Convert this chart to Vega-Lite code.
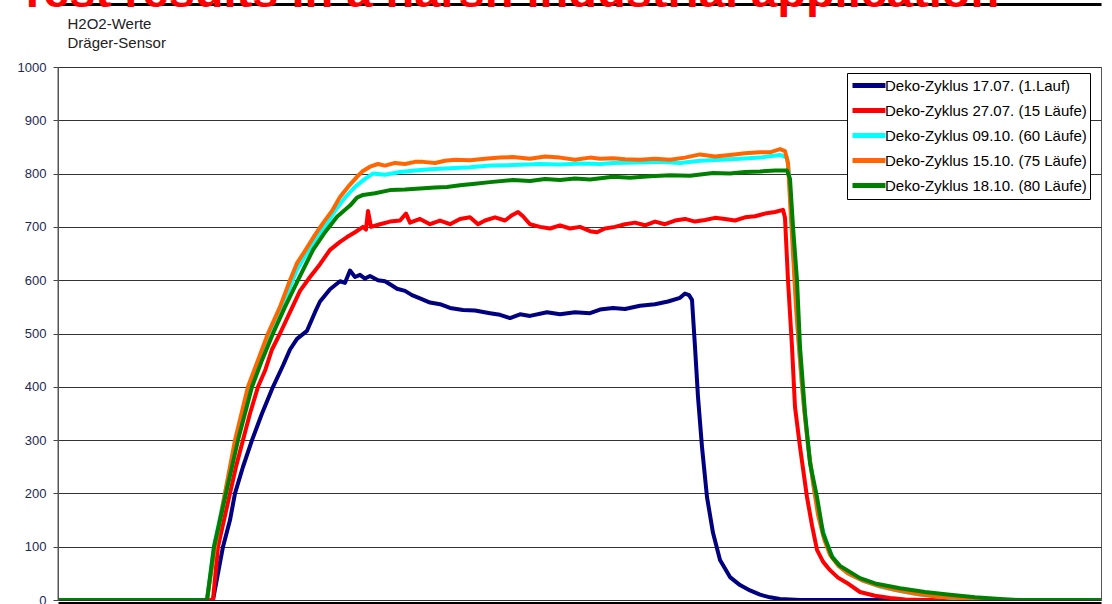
{
  "$schema": "https://vega.github.io/schema/vega-lite/v6.json",
  "width": 1043,
  "height": 533,
  "autosize": "none",
  "padding": {"left": 58, "top": 67, "right": 11, "bottom": 4},
  "background": "#ffffff",
  "title": {
    "text": "Test results in a harsh industrial application",
    "anchor": "start",
    "frame": "group",
    "orient": "top",
    "color": "#ff0000",
    "font": "Liberation Sans",
    "fontSize": 47,
    "fontWeight": "bold",
    "baseline": "alphabetic",
    "offset": -50,
    "dx": -40
  },
  "config": {
    "font": "Liberation Sans",
    "view": {"stroke": "#555555", "strokeWidth": 1}
  },
  "resolve": {"axis": {"x": "independent"}},
  "layer": [
    {
      "data": {"values": [
        {"s":"Deko-Zyklus 17.07. (1.Lauf)","t":0,"v":0},{"s":"Deko-Zyklus 17.07. (1.Lauf)","t":155,"v":0},{"s":"Deko-Zyklus 17.07. (1.Lauf)","t":165,"v":100},{"s":"Deko-Zyklus 17.07. (1.Lauf)","t":172,"v":150},{"s":"Deko-Zyklus 17.07. (1.Lauf)","t":177,"v":200},{"s":"Deko-Zyklus 17.07. (1.Lauf)","t":185,"v":250},{"s":"Deko-Zyklus 17.07. (1.Lauf)","t":194,"v":300},{"s":"Deko-Zyklus 17.07. (1.Lauf)","t":204,"v":350},{"s":"Deko-Zyklus 17.07. (1.Lauf)","t":215,"v":400},{"s":"Deko-Zyklus 17.07. (1.Lauf)","t":225,"v":440},{"s":"Deko-Zyklus 17.07. (1.Lauf)","t":232,"v":470},{"s":"Deko-Zyklus 17.07. (1.Lauf)","t":239,"v":490},{"s":"Deko-Zyklus 17.07. (1.Lauf)","t":249,"v":505},{"s":"Deko-Zyklus 17.07. (1.Lauf)","t":257,"v":540},{"s":"Deko-Zyklus 17.07. (1.Lauf)","t":262,"v":560},{"s":"Deko-Zyklus 17.07. (1.Lauf)","t":272,"v":583},{"s":"Deko-Zyklus 17.07. (1.Lauf)","t":282,"v":598},{"s":"Deko-Zyklus 17.07. (1.Lauf)","t":287,"v":595},{"s":"Deko-Zyklus 17.07. (1.Lauf)","t":292,"v":618},{"s":"Deko-Zyklus 17.07. (1.Lauf)","t":297,"v":606},{"s":"Deko-Zyklus 17.07. (1.Lauf)","t":302,"v":610},{"s":"Deko-Zyklus 17.07. (1.Lauf)","t":307,"v":603},{"s":"Deko-Zyklus 17.07. (1.Lauf)","t":312,"v":608},{"s":"Deko-Zyklus 17.07. (1.Lauf)","t":320,"v":600},{"s":"Deko-Zyklus 17.07. (1.Lauf)","t":327,"v":598},{"s":"Deko-Zyklus 17.07. (1.Lauf)","t":334,"v":590},{"s":"Deko-Zyklus 17.07. (1.Lauf)","t":339,"v":584},{"s":"Deko-Zyklus 17.07. (1.Lauf)","t":347,"v":580},{"s":"Deko-Zyklus 17.07. (1.Lauf)","t":354,"v":572},{"s":"Deko-Zyklus 17.07. (1.Lauf)","t":362,"v":566},{"s":"Deko-Zyklus 17.07. (1.Lauf)","t":372,"v":558},{"s":"Deko-Zyklus 17.07. (1.Lauf)","t":382,"v":555},{"s":"Deko-Zyklus 17.07. (1.Lauf)","t":392,"v":548},{"s":"Deko-Zyklus 17.07. (1.Lauf)","t":405,"v":544},{"s":"Deko-Zyklus 17.07. (1.Lauf)","t":417,"v":543},{"s":"Deko-Zyklus 17.07. (1.Lauf)","t":432,"v":538},{"s":"Deko-Zyklus 17.07. (1.Lauf)","t":442,"v":535},{"s":"Deko-Zyklus 17.07. (1.Lauf)","t":452,"v":529},{"s":"Deko-Zyklus 17.07. (1.Lauf)","t":462,"v":536},{"s":"Deko-Zyklus 17.07. (1.Lauf)","t":472,"v":533},{"s":"Deko-Zyklus 17.07. (1.Lauf)","t":489,"v":540},{"s":"Deko-Zyklus 17.07. (1.Lauf)","t":502,"v":536},{"s":"Deko-Zyklus 17.07. (1.Lauf)","t":517,"v":540},{"s":"Deko-Zyklus 17.07. (1.Lauf)","t":532,"v":538},{"s":"Deko-Zyklus 17.07. (1.Lauf)","t":542,"v":545},{"s":"Deko-Zyklus 17.07. (1.Lauf)","t":555,"v":548},{"s":"Deko-Zyklus 17.07. (1.Lauf)","t":567,"v":546},{"s":"Deko-Zyklus 17.07. (1.Lauf)","t":582,"v":552},{"s":"Deko-Zyklus 17.07. (1.Lauf)","t":597,"v":555},{"s":"Deko-Zyklus 17.07. (1.Lauf)","t":610,"v":560},{"s":"Deko-Zyklus 17.07. (1.Lauf)","t":622,"v":567},{"s":"Deko-Zyklus 17.07. (1.Lauf)","t":627,"v":575},{"s":"Deko-Zyklus 17.07. (1.Lauf)","t":631,"v":572},{"s":"Deko-Zyklus 17.07. (1.Lauf)","t":634,"v":563},{"s":"Deko-Zyklus 17.07. (1.Lauf)","t":637,"v":475},{"s":"Deko-Zyklus 17.07. (1.Lauf)","t":640,"v":381},{"s":"Deko-Zyklus 17.07. (1.Lauf)","t":644,"v":287},{"s":"Deko-Zyklus 17.07. (1.Lauf)","t":649,"v":193},{"s":"Deko-Zyklus 17.07. (1.Lauf)","t":655,"v":126},{"s":"Deko-Zyklus 17.07. (1.Lauf)","t":662,"v":75},{"s":"Deko-Zyklus 17.07. (1.Lauf)","t":672,"v":43},{"s":"Deko-Zyklus 17.07. (1.Lauf)","t":682,"v":28},{"s":"Deko-Zyklus 17.07. (1.Lauf)","t":692,"v":18},{"s":"Deko-Zyklus 17.07. (1.Lauf)","t":702,"v":10},{"s":"Deko-Zyklus 17.07. (1.Lauf)","t":712,"v":5},{"s":"Deko-Zyklus 17.07. (1.Lauf)","t":722,"v":2},{"s":"Deko-Zyklus 17.07. (1.Lauf)","t":742,"v":0},{"s":"Deko-Zyklus 17.07. (1.Lauf)","t":1043,"v":0},

        {"s":"Deko-Zyklus 27.07. (15 Läufe)","t":0,"v":0},{"s":"Deko-Zyklus 27.07. (15 Läufe)","t":155,"v":0},{"s":"Deko-Zyklus 27.07. (15 Läufe)","t":160,"v":100},{"s":"Deko-Zyklus 27.07. (15 Läufe)","t":166,"v":150},{"s":"Deko-Zyklus 27.07. (15 Läufe)","t":172,"v":200},{"s":"Deko-Zyklus 27.07. (15 Läufe)","t":178,"v":250},{"s":"Deko-Zyklus 27.07. (15 Läufe)","t":185,"v":300},{"s":"Deko-Zyklus 27.07. (15 Läufe)","t":192,"v":350},{"s":"Deko-Zyklus 27.07. (15 Läufe)","t":200,"v":400},{"s":"Deko-Zyklus 27.07. (15 Läufe)","t":207,"v":430},{"s":"Deko-Zyklus 27.07. (15 Läufe)","t":214,"v":470},{"s":"Deko-Zyklus 27.07. (15 Läufe)","t":222,"v":500},{"s":"Deko-Zyklus 27.07. (15 Läufe)","t":232,"v":540},{"s":"Deko-Zyklus 27.07. (15 Läufe)","t":242,"v":580},{"s":"Deko-Zyklus 27.07. (15 Läufe)","t":252,"v":606},{"s":"Deko-Zyklus 27.07. (15 Läufe)","t":262,"v":630},{"s":"Deko-Zyklus 27.07. (15 Läufe)","t":272,"v":657},{"s":"Deko-Zyklus 27.07. (15 Läufe)","t":282,"v":672},{"s":"Deko-Zyklus 27.07. (15 Läufe)","t":289,"v":681},{"s":"Deko-Zyklus 27.07. (15 Läufe)","t":297,"v":690},{"s":"Deko-Zyklus 27.07. (15 Läufe)","t":305,"v":700},{"s":"Deko-Zyklus 27.07. (15 Läufe)","t":308,"v":695},{"s":"Deko-Zyklus 27.07. (15 Läufe)","t":310,"v":730},{"s":"Deko-Zyklus 27.07. (15 Läufe)","t":313,"v":700},{"s":"Deko-Zyklus 27.07. (15 Läufe)","t":322,"v":705},{"s":"Deko-Zyklus 27.07. (15 Läufe)","t":332,"v":710},{"s":"Deko-Zyklus 27.07. (15 Läufe)","t":342,"v":712},{"s":"Deko-Zyklus 27.07. (15 Läufe)","t":348,"v":725},{"s":"Deko-Zyklus 27.07. (15 Läufe)","t":352,"v":708},{"s":"Deko-Zyklus 27.07. (15 Läufe)","t":362,"v":715},{"s":"Deko-Zyklus 27.07. (15 Läufe)","t":372,"v":705},{"s":"Deko-Zyklus 27.07. (15 Läufe)","t":382,"v":712},{"s":"Deko-Zyklus 27.07. (15 Läufe)","t":392,"v":705},{"s":"Deko-Zyklus 27.07. (15 Läufe)","t":402,"v":715},{"s":"Deko-Zyklus 27.07. (15 Läufe)","t":412,"v":718},{"s":"Deko-Zyklus 27.07. (15 Läufe)","t":420,"v":705},{"s":"Deko-Zyklus 27.07. (15 Läufe)","t":427,"v":712},{"s":"Deko-Zyklus 27.07. (15 Läufe)","t":437,"v":718},{"s":"Deko-Zyklus 27.07. (15 Läufe)","t":447,"v":712},{"s":"Deko-Zyklus 27.07. (15 Läufe)","t":454,"v":722},{"s":"Deko-Zyklus 27.07. (15 Läufe)","t":460,"v":728},{"s":"Deko-Zyklus 27.07. (15 Läufe)","t":465,"v":720},{"s":"Deko-Zyklus 27.07. (15 Läufe)","t":472,"v":705},{"s":"Deko-Zyklus 27.07. (15 Läufe)","t":482,"v":700},{"s":"Deko-Zyklus 27.07. (15 Läufe)","t":492,"v":697},{"s":"Deko-Zyklus 27.07. (15 Läufe)","t":502,"v":703},{"s":"Deko-Zyklus 27.07. (15 Läufe)","t":512,"v":697},{"s":"Deko-Zyklus 27.07. (15 Läufe)","t":522,"v":700},{"s":"Deko-Zyklus 27.07. (15 Läufe)","t":532,"v":692},{"s":"Deko-Zyklus 27.07. (15 Läufe)","t":539,"v":690},{"s":"Deko-Zyklus 27.07. (15 Läufe)","t":547,"v":697},{"s":"Deko-Zyklus 27.07. (15 Läufe)","t":557,"v":700},{"s":"Deko-Zyklus 27.07. (15 Läufe)","t":567,"v":705},{"s":"Deko-Zyklus 27.07. (15 Läufe)","t":577,"v":708},{"s":"Deko-Zyklus 27.07. (15 Läufe)","t":587,"v":703},{"s":"Deko-Zyklus 27.07. (15 Läufe)","t":597,"v":710},{"s":"Deko-Zyklus 27.07. (15 Läufe)","t":607,"v":705},{"s":"Deko-Zyklus 27.07. (15 Läufe)","t":617,"v":712},{"s":"Deko-Zyklus 27.07. (15 Läufe)","t":627,"v":715},{"s":"Deko-Zyklus 27.07. (15 Läufe)","t":637,"v":710},{"s":"Deko-Zyklus 27.07. (15 Läufe)","t":647,"v":713},{"s":"Deko-Zyklus 27.07. (15 Läufe)","t":657,"v":717},{"s":"Deko-Zyklus 27.07. (15 Läufe)","t":667,"v":715},{"s":"Deko-Zyklus 27.07. (15 Läufe)","t":677,"v":712},{"s":"Deko-Zyklus 27.07. (15 Läufe)","t":687,"v":718},{"s":"Deko-Zyklus 27.07. (15 Läufe)","t":697,"v":720},{"s":"Deko-Zyklus 27.07. (15 Läufe)","t":707,"v":725},{"s":"Deko-Zyklus 27.07. (15 Läufe)","t":717,"v":728},{"s":"Deko-Zyklus 27.07. (15 Läufe)","t":725,"v":732},{"s":"Deko-Zyklus 27.07. (15 Läufe)","t":727,"v":717},{"s":"Deko-Zyklus 27.07. (15 Läufe)","t":730,"v":600},{"s":"Deko-Zyklus 27.07. (15 Läufe)","t":734,"v":475},{"s":"Deko-Zyklus 27.07. (15 Läufe)","t":737,"v":362},{"s":"Deko-Zyklus 27.07. (15 Läufe)","t":742,"v":287},{"s":"Deko-Zyklus 27.07. (15 Läufe)","t":749,"v":193},{"s":"Deko-Zyklus 27.07. (15 Läufe)","t":754,"v":140},{"s":"Deko-Zyklus 27.07. (15 Läufe)","t":759,"v":94},{"s":"Deko-Zyklus 27.07. (15 Läufe)","t":765,"v":72},{"s":"Deko-Zyklus 27.07. (15 Läufe)","t":772,"v":56},{"s":"Deko-Zyklus 27.07. (15 Läufe)","t":780,"v":42},{"s":"Deko-Zyklus 27.07. (15 Läufe)","t":789,"v":32},{"s":"Deko-Zyklus 27.07. (15 Läufe)","t":802,"v":15},{"s":"Deko-Zyklus 27.07. (15 Läufe)","t":817,"v":8},{"s":"Deko-Zyklus 27.07. (15 Läufe)","t":832,"v":4},{"s":"Deko-Zyklus 27.07. (15 Läufe)","t":847,"v":1},{"s":"Deko-Zyklus 27.07. (15 Läufe)","t":867,"v":0},{"s":"Deko-Zyklus 27.07. (15 Läufe)","t":1043,"v":0},

        {"s":"Deko-Zyklus 09.10. (60 Läufe)","t":0,"v":0},{"s":"Deko-Zyklus 09.10. (60 Läufe)","t":149,"v":0},{"s":"Deko-Zyklus 09.10. (60 Läufe)","t":156,"v":100},{"s":"Deko-Zyklus 09.10. (60 Läufe)","t":167,"v":200},{"s":"Deko-Zyklus 09.10. (60 Läufe)","t":178,"v":300},{"s":"Deko-Zyklus 09.10. (60 Läufe)","t":192,"v":400},{"s":"Deko-Zyklus 09.10. (60 Läufe)","t":212,"v":500},{"s":"Deko-Zyklus 09.10. (60 Läufe)","t":224,"v":550},{"s":"Deko-Zyklus 09.10. (60 Läufe)","t":239,"v":620},{"s":"Deko-Zyklus 09.10. (60 Läufe)","t":252,"v":660},{"s":"Deko-Zyklus 09.10. (60 Läufe)","t":265,"v":695},{"s":"Deko-Zyklus 09.10. (60 Läufe)","t":277,"v":730},{"s":"Deko-Zyklus 09.10. (60 Läufe)","t":287,"v":755},{"s":"Deko-Zyklus 09.10. (60 Läufe)","t":297,"v":775},{"s":"Deko-Zyklus 09.10. (60 Läufe)","t":307,"v":790},{"s":"Deko-Zyklus 09.10. (60 Läufe)","t":315,"v":800},{"s":"Deko-Zyklus 09.10. (60 Läufe)","t":327,"v":798},{"s":"Deko-Zyklus 09.10. (60 Läufe)","t":342,"v":803},{"s":"Deko-Zyklus 09.10. (60 Läufe)","t":357,"v":806},{"s":"Deko-Zyklus 09.10. (60 Läufe)","t":372,"v":808},{"s":"Deko-Zyklus 09.10. (60 Läufe)","t":392,"v":810},{"s":"Deko-Zyklus 09.10. (60 Läufe)","t":412,"v":812},{"s":"Deko-Zyklus 09.10. (60 Läufe)","t":432,"v":815},{"s":"Deko-Zyklus 09.10. (60 Läufe)","t":455,"v":816},{"s":"Deko-Zyklus 09.10. (60 Läufe)","t":482,"v":818},{"s":"Deko-Zyklus 09.10. (60 Läufe)","t":502,"v":817},{"s":"Deko-Zyklus 09.10. (60 Läufe)","t":522,"v":819},{"s":"Deko-Zyklus 09.10. (60 Läufe)","t":542,"v":818},{"s":"Deko-Zyklus 09.10. (60 Läufe)","t":555,"v":820},{"s":"Deko-Zyklus 09.10. (60 Läufe)","t":582,"v":821},{"s":"Deko-Zyklus 09.10. (60 Läufe)","t":602,"v":822},{"s":"Deko-Zyklus 09.10. (60 Läufe)","t":622,"v":820},{"s":"Deko-Zyklus 09.10. (60 Läufe)","t":642,"v":824},{"s":"Deko-Zyklus 09.10. (60 Läufe)","t":662,"v":826},{"s":"Deko-Zyklus 09.10. (60 Läufe)","t":682,"v":828},{"s":"Deko-Zyklus 09.10. (60 Läufe)","t":702,"v":830},{"s":"Deko-Zyklus 09.10. (60 Läufe)","t":722,"v":835},{"s":"Deko-Zyklus 09.10. (60 Läufe)","t":729,"v":830},{"s":"Deko-Zyklus 09.10. (60 Läufe)","t":731,"v":800},{"s":"Deko-Zyklus 09.10. (60 Läufe)","t":734,"v":700},{"s":"Deko-Zyklus 09.10. (60 Läufe)","t":737,"v":600},{"s":"Deko-Zyklus 09.10. (60 Läufe)","t":740,"v":500},{"s":"Deko-Zyklus 09.10. (60 Läufe)","t":744,"v":400},{"s":"Deko-Zyklus 09.10. (60 Läufe)","t":748,"v":330},{"s":"Deko-Zyklus 09.10. (60 Läufe)","t":752,"v":260},{"s":"Deko-Zyklus 09.10. (60 Läufe)","t":757,"v":200},{"s":"Deko-Zyklus 09.10. (60 Läufe)","t":762,"v":150},{"s":"Deko-Zyklus 09.10. (60 Läufe)","t":768,"v":110},{"s":"Deko-Zyklus 09.10. (60 Läufe)","t":774,"v":82},{"s":"Deko-Zyklus 09.10. (60 Läufe)","t":782,"v":62},{"s":"Deko-Zyklus 09.10. (60 Läufe)","t":792,"v":48},{"s":"Deko-Zyklus 09.10. (60 Läufe)","t":807,"v":35},{"s":"Deko-Zyklus 09.10. (60 Läufe)","t":822,"v":25},{"s":"Deko-Zyklus 09.10. (60 Läufe)","t":842,"v":17},{"s":"Deko-Zyklus 09.10. (60 Läufe)","t":862,"v":10},{"s":"Deko-Zyklus 09.10. (60 Läufe)","t":882,"v":6},{"s":"Deko-Zyklus 09.10. (60 Läufe)","t":902,"v":3},{"s":"Deko-Zyklus 09.10. (60 Läufe)","t":922,"v":1},{"s":"Deko-Zyklus 09.10. (60 Läufe)","t":942,"v":0},{"s":"Deko-Zyklus 09.10. (60 Läufe)","t":1043,"v":0},

        {"s":"Deko-Zyklus 15.10. (75 Läufe)","t":0,"v":0},{"s":"Deko-Zyklus 15.10. (75 Läufe)","t":149,"v":0},{"s":"Deko-Zyklus 15.10. (75 Läufe)","t":157,"v":100},{"s":"Deko-Zyklus 15.10. (75 Läufe)","t":167,"v":200},{"s":"Deko-Zyklus 15.10. (75 Läufe)","t":177,"v":300},{"s":"Deko-Zyklus 15.10. (75 Läufe)","t":190,"v":400},{"s":"Deko-Zyklus 15.10. (75 Läufe)","t":200,"v":450},{"s":"Deko-Zyklus 15.10. (75 Läufe)","t":210,"v":500},{"s":"Deko-Zyklus 15.10. (75 Läufe)","t":222,"v":550},{"s":"Deko-Zyklus 15.10. (75 Läufe)","t":232,"v":600},{"s":"Deko-Zyklus 15.10. (75 Läufe)","t":239,"v":632},{"s":"Deko-Zyklus 15.10. (75 Läufe)","t":247,"v":655},{"s":"Deko-Zyklus 15.10. (75 Läufe)","t":257,"v":685},{"s":"Deko-Zyklus 15.10. (75 Läufe)","t":265,"v":707},{"s":"Deko-Zyklus 15.10. (75 Läufe)","t":274,"v":730},{"s":"Deko-Zyklus 15.10. (75 Läufe)","t":282,"v":756},{"s":"Deko-Zyklus 15.10. (75 Läufe)","t":290,"v":775},{"s":"Deko-Zyklus 15.10. (75 Läufe)","t":299,"v":794},{"s":"Deko-Zyklus 15.10. (75 Läufe)","t":305,"v":805},{"s":"Deko-Zyklus 15.10. (75 Läufe)","t":312,"v":813},{"s":"Deko-Zyklus 15.10. (75 Läufe)","t":320,"v":818},{"s":"Deko-Zyklus 15.10. (75 Läufe)","t":327,"v":815},{"s":"Deko-Zyklus 15.10. (75 Läufe)","t":337,"v":820},{"s":"Deko-Zyklus 15.10. (75 Läufe)","t":347,"v":818},{"s":"Deko-Zyklus 15.10. (75 Läufe)","t":357,"v":822},{"s":"Deko-Zyklus 15.10. (75 Läufe)","t":365,"v":822},{"s":"Deko-Zyklus 15.10. (75 Läufe)","t":377,"v":820},{"s":"Deko-Zyklus 15.10. (75 Läufe)","t":387,"v":824},{"s":"Deko-Zyklus 15.10. (75 Läufe)","t":397,"v":826},{"s":"Deko-Zyklus 15.10. (75 Läufe)","t":412,"v":825},{"s":"Deko-Zyklus 15.10. (75 Läufe)","t":427,"v":828},{"s":"Deko-Zyklus 15.10. (75 Läufe)","t":442,"v":830},{"s":"Deko-Zyklus 15.10. (75 Läufe)","t":455,"v":831},{"s":"Deko-Zyklus 15.10. (75 Läufe)","t":472,"v":828},{"s":"Deko-Zyklus 15.10. (75 Läufe)","t":487,"v":832},{"s":"Deko-Zyklus 15.10. (75 Läufe)","t":502,"v":830},{"s":"Deko-Zyklus 15.10. (75 Läufe)","t":517,"v":826},{"s":"Deko-Zyklus 15.10. (75 Läufe)","t":532,"v":830},{"s":"Deko-Zyklus 15.10. (75 Läufe)","t":542,"v":828},{"s":"Deko-Zyklus 15.10. (75 Läufe)","t":555,"v":829},{"s":"Deko-Zyklus 15.10. (75 Läufe)","t":567,"v":827},{"s":"Deko-Zyklus 15.10. (75 Läufe)","t":582,"v":826},{"s":"Deko-Zyklus 15.10. (75 Läufe)","t":597,"v":828},{"s":"Deko-Zyklus 15.10. (75 Läufe)","t":612,"v":826},{"s":"Deko-Zyklus 15.10. (75 Läufe)","t":627,"v":830},{"s":"Deko-Zyklus 15.10. (75 Läufe)","t":642,"v":836},{"s":"Deko-Zyklus 15.10. (75 Läufe)","t":657,"v":832},{"s":"Deko-Zyklus 15.10. (75 Läufe)","t":672,"v":835},{"s":"Deko-Zyklus 15.10. (75 Läufe)","t":687,"v":838},{"s":"Deko-Zyklus 15.10. (75 Läufe)","t":702,"v":840},{"s":"Deko-Zyklus 15.10. (75 Läufe)","t":712,"v":840},{"s":"Deko-Zyklus 15.10. (75 Läufe)","t":722,"v":846},{"s":"Deko-Zyklus 15.10. (75 Läufe)","t":727,"v":842},{"s":"Deko-Zyklus 15.10. (75 Läufe)","t":730,"v":820},{"s":"Deko-Zyklus 15.10. (75 Läufe)","t":732,"v":750},{"s":"Deko-Zyklus 15.10. (75 Läufe)","t":735,"v":650},{"s":"Deko-Zyklus 15.10. (75 Läufe)","t":738,"v":550},{"s":"Deko-Zyklus 15.10. (75 Läufe)","t":742,"v":450},{"s":"Deko-Zyklus 15.10. (75 Läufe)","t":746,"v":360},{"s":"Deko-Zyklus 15.10. (75 Läufe)","t":750,"v":290},{"s":"Deko-Zyklus 15.10. (75 Läufe)","t":755,"v":220},{"s":"Deko-Zyklus 15.10. (75 Läufe)","t":760,"v":160},{"s":"Deko-Zyklus 15.10. (75 Läufe)","t":766,"v":115},{"s":"Deko-Zyklus 15.10. (75 Läufe)","t":772,"v":85},{"s":"Deko-Zyklus 15.10. (75 Läufe)","t":780,"v":65},{"s":"Deko-Zyklus 15.10. (75 Läufe)","t":790,"v":50},{"s":"Deko-Zyklus 15.10. (75 Läufe)","t":804,"v":37},{"s":"Deko-Zyklus 15.10. (75 Läufe)","t":820,"v":27},{"s":"Deko-Zyklus 15.10. (75 Läufe)","t":837,"v":19},{"s":"Deko-Zyklus 15.10. (75 Läufe)","t":857,"v":12},{"s":"Deko-Zyklus 15.10. (75 Läufe)","t":877,"v":7},{"s":"Deko-Zyklus 15.10. (75 Läufe)","t":897,"v":4},{"s":"Deko-Zyklus 15.10. (75 Läufe)","t":917,"v":2},{"s":"Deko-Zyklus 15.10. (75 Läufe)","t":942,"v":0},{"s":"Deko-Zyklus 15.10. (75 Läufe)","t":1043,"v":0},

        {"s":"Deko-Zyklus 18.10. (80 Läufe)","t":0,"v":0},{"s":"Deko-Zyklus 18.10. (80 Läufe)","t":149,"v":0},{"s":"Deko-Zyklus 18.10. (80 Läufe)","t":156,"v":100},{"s":"Deko-Zyklus 18.10. (80 Läufe)","t":168,"v":200},{"s":"Deko-Zyklus 18.10. (80 Läufe)","t":180,"v":300},{"s":"Deko-Zyklus 18.10. (80 Läufe)","t":194,"v":400},{"s":"Deko-Zyklus 18.10. (80 Läufe)","t":204,"v":450},{"s":"Deko-Zyklus 18.10. (80 Läufe)","t":215,"v":500},{"s":"Deko-Zyklus 18.10. (80 Läufe)","t":227,"v":550},{"s":"Deko-Zyklus 18.10. (80 Läufe)","t":240,"v":600},{"s":"Deko-Zyklus 18.10. (80 Läufe)","t":255,"v":657},{"s":"Deko-Zyklus 18.10. (80 Läufe)","t":267,"v":690},{"s":"Deko-Zyklus 18.10. (80 Läufe)","t":279,"v":719},{"s":"Deko-Zyklus 18.10. (80 Läufe)","t":292,"v":740},{"s":"Deko-Zyklus 18.10. (80 Läufe)","t":299,"v":755},{"s":"Deko-Zyklus 18.10. (80 Läufe)","t":305,"v":760},{"s":"Deko-Zyklus 18.10. (80 Läufe)","t":317,"v":763},{"s":"Deko-Zyklus 18.10. (80 Läufe)","t":332,"v":769},{"s":"Deko-Zyklus 18.10. (80 Läufe)","t":347,"v":770},{"s":"Deko-Zyklus 18.10. (80 Läufe)","t":362,"v":772},{"s":"Deko-Zyklus 18.10. (80 Läufe)","t":377,"v":774},{"s":"Deko-Zyklus 18.10. (80 Läufe)","t":389,"v":775},{"s":"Deko-Zyklus 18.10. (80 Läufe)","t":402,"v":778},{"s":"Deko-Zyklus 18.10. (80 Läufe)","t":417,"v":781},{"s":"Deko-Zyklus 18.10. (80 Läufe)","t":432,"v":784},{"s":"Deko-Zyklus 18.10. (80 Läufe)","t":455,"v":788},{"s":"Deko-Zyklus 18.10. (80 Läufe)","t":472,"v":786},{"s":"Deko-Zyklus 18.10. (80 Läufe)","t":487,"v":790},{"s":"Deko-Zyklus 18.10. (80 Läufe)","t":502,"v":788},{"s":"Deko-Zyklus 18.10. (80 Läufe)","t":517,"v":791},{"s":"Deko-Zyklus 18.10. (80 Läufe)","t":532,"v":789},{"s":"Deko-Zyklus 18.10. (80 Läufe)","t":555,"v":794},{"s":"Deko-Zyklus 18.10. (80 Läufe)","t":572,"v":792},{"s":"Deko-Zyklus 18.10. (80 Läufe)","t":592,"v":795},{"s":"Deko-Zyklus 18.10. (80 Läufe)","t":612,"v":797},{"s":"Deko-Zyklus 18.10. (80 Läufe)","t":632,"v":796},{"s":"Deko-Zyklus 18.10. (80 Läufe)","t":655,"v":801},{"s":"Deko-Zyklus 18.10. (80 Läufe)","t":672,"v":800},{"s":"Deko-Zyklus 18.10. (80 Läufe)","t":687,"v":803},{"s":"Deko-Zyklus 18.10. (80 Läufe)","t":702,"v":804},{"s":"Deko-Zyklus 18.10. (80 Läufe)","t":717,"v":806},{"s":"Deko-Zyklus 18.10. (80 Läufe)","t":729,"v":806},{"s":"Deko-Zyklus 18.10. (80 Läufe)","t":732,"v":790},{"s":"Deko-Zyklus 18.10. (80 Läufe)","t":735,"v":700},{"s":"Deko-Zyklus 18.10. (80 Läufe)","t":739,"v":600},{"s":"Deko-Zyklus 18.10. (80 Läufe)","t":742,"v":475},{"s":"Deko-Zyklus 18.10. (80 Läufe)","t":747,"v":351},{"s":"Deko-Zyklus 18.10. (80 Läufe)","t":752,"v":257},{"s":"Deko-Zyklus 18.10. (80 Läufe)","t":759,"v":193},{"s":"Deko-Zyklus 18.10. (80 Läufe)","t":765,"v":126},{"s":"Deko-Zyklus 18.10. (80 Läufe)","t":774,"v":81},{"s":"Deko-Zyklus 18.10. (80 Läufe)","t":782,"v":64},{"s":"Deko-Zyklus 18.10. (80 Läufe)","t":789,"v":56},{"s":"Deko-Zyklus 18.10. (80 Läufe)","t":802,"v":41},{"s":"Deko-Zyklus 18.10. (80 Läufe)","t":817,"v":31},{"s":"Deko-Zyklus 18.10. (80 Läufe)","t":842,"v":22},{"s":"Deko-Zyklus 18.10. (80 Läufe)","t":867,"v":15},{"s":"Deko-Zyklus 18.10. (80 Läufe)","t":892,"v":10},{"s":"Deko-Zyklus 18.10. (80 Läufe)","t":917,"v":5},{"s":"Deko-Zyklus 18.10. (80 Läufe)","t":942,"v":2},{"s":"Deko-Zyklus 18.10. (80 Läufe)","t":962,"v":0},{"s":"Deko-Zyklus 18.10. (80 Läufe)","t":1043,"v":0}
      ]},
      "mark": {"type": "line", "strokeWidth": 4, "strokeJoin": "round", "clip": true},
      "encoding": {
        "x": {
          "field": "t", "type": "quantitative",
          "scale": {"domain": [0, 1043], "nice": false, "zero": false},
          "axis": {"orient": "bottom", "title": null, "labels": false, "ticks": false, "grid": false, "domain": true, "domainColor": "#000000", "domainWidth": 3, "offset": 3}
        },
        "y": {
          "field": "v", "type": "quantitative",
          "scale": {"domain": [0, 1000], "nice": false},
          "axis": {
            "values": [0, 100, 200, 300, 400, 500, 600, 700, 800, 900, 1000],
            "format": "d",
            "grid": true, "gridColor": "#333333", "gridWidth": 1,
            "domain": true, "domainColor": "#555555", "domainWidth": 1,
            "ticks": true, "tickSize": 5, "tickColor": "#444444", "tickWidth": 1,
            "labelFont": "Liberation Sans", "labelFontSize": 13, "labelColor": "#1b2a55", "labelPadding": 7,
            "title": ["H2O2-Werte", "Dräger-Sensor"],
            "titleAngle": 0, "titleAlign": "left", "titleBaseline": "top",
            "titleX": 9, "titleY": -51,
            "titleFont": "Liberation Sans", "titleFontSize": 15, "titleFontWeight": "normal",
            "titleColor": "#222222", "titleLineHeight": 19
          }
        },
        "color": {
          "field": "s", "type": "nominal",
          "scale": {
            "domain": ["Deko-Zyklus 17.07. (1.Lauf)", "Deko-Zyklus 27.07. (15 Läufe)", "Deko-Zyklus 09.10. (60 Läufe)", "Deko-Zyklus 15.10. (75 Läufe)", "Deko-Zyklus 18.10. (80 Läufe)"],
            "range": ["#000080", "#ff0000", "#00ffff", "#ff6600", "#008000"]
          },
          "legend": {
            "title": null, "orient": "none", "legendX": 789, "legendY": 6,
            "padding": 3, "strokeColor": "#000000", "fillColor": "#ffffff",
            "symbolType": "M-1,0H3.7", "symbolSize": 196, "symbolStrokeWidth": 5,
            "labelFont": "Liberation Sans", "labelFontSize": 15, "labelColor": "#000000",
            "labelOffset": 16, "rowPadding": 4, "labelLimit": 400
          }
        }
      }
    },
    {
      "data": {"values": [{"k": 1}]},
      "mark": {"type": "rule", "color": "#555555", "strokeWidth": 1},
      "encoding": {
        "x": {
          "datum": 0, "type": "quantitative",
          "axis": {"orient": "top", "title": null, "labels": false, "ticks": false, "grid": false, "domain": true, "domainColor": "#000000", "domainWidth": 3, "offset": 63, "minExtent": 0, "maxExtent": 0}
        }
      }
    }
  ]
}
